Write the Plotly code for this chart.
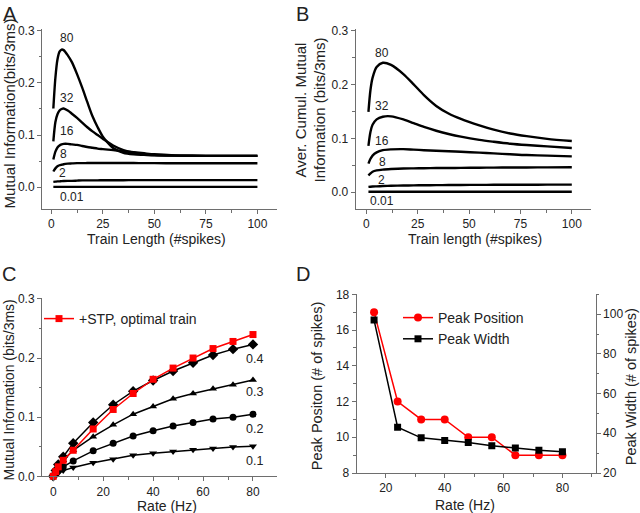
import plotly.graph_objects as go

# ---------------- Panel A data ----------------
a_x = [1, 2, 3, 4, 5, 6, 8, 10, 12.5, 15, 17.5, 20, 22.5, 25, 27.5, 30, 35, 40, 45, 50, 60, 75, 100]
a_80 = [0.151, 0.210, 0.245, 0.260, 0.264, 0.263, 0.253, 0.240, 0.217, 0.191, 0.163, 0.136, 0.115, 0.097,
        0.085, 0.075, 0.066, 0.063, 0.062, 0.061, 0.0605, 0.060, 0.060]
a_32 = [0.088, 0.125, 0.140, 0.147, 0.150, 0.151, 0.147, 0.141, 0.133, 0.124, 0.115, 0.107, 0.100, 0.093,
        0.086, 0.080, 0.071, 0.066, 0.063, 0.0615, 0.0605, 0.060, 0.060]
a_16 = [0.053, 0.068, 0.076, 0.080, 0.082, 0.083, 0.083, 0.082, 0.081, 0.079, 0.077, 0.0755, 0.074, 0.073,
        0.072, 0.071, 0.069, 0.067, 0.065, 0.063, 0.061, 0.060, 0.060]
a_8 = [0.030, 0.036, 0.040, 0.042, 0.043, 0.044, 0.045, 0.0455, 0.046, 0.046, 0.0462, 0.0463, 0.0463, 0.0463,
       0.0463, 0.0463, 0.0462, 0.0462, 0.0461, 0.0460, 0.0459, 0.0458, 0.0458]
a_2 = [0.010, 0.0105, 0.011, 0.011, 0.0115, 0.0118, 0.012, 0.012, 0.0125, 0.013, 0.013, 0.013, 0.013, 0.0132,
       0.0132, 0.0133, 0.0133, 0.0134, 0.0134, 0.0134, 0.0135, 0.0135, 0.0135]
a_001 = [0.0005] * len(a_x)

# ---------------- Panel B data ----------------
b_x = [1, 2, 3, 5, 8, 12, 18, 23, 28, 34, 40, 46, 55, 62, 70, 78, 88, 100]
b_80 = [0.149, 0.190, 0.212, 0.232, 0.240, 0.236, 0.219, 0.200, 0.180, 0.160, 0.146, 0.136, 0.124, 0.116,
        0.109, 0.104, 0.099, 0.095]
b_32 = [0.086, 0.112, 0.125, 0.135, 0.140, 0.1407, 0.135, 0.128, 0.121, 0.114, 0.108, 0.103, 0.097, 0.0935,
        0.090, 0.0875, 0.085, 0.082]
b_16 = [0.053, 0.062, 0.068, 0.074, 0.078, 0.0795, 0.080, 0.079, 0.078, 0.077, 0.076, 0.075, 0.0735, 0.072,
        0.0705, 0.069, 0.068, 0.0666]
b_8 = [0.031, 0.035, 0.038, 0.0405, 0.042, 0.043, 0.044, 0.0443, 0.0446, 0.0449, 0.045, 0.0452, 0.0455,
       0.0457, 0.0459, 0.046, 0.0462, 0.0463]
b_2 = [0.0099, 0.0103, 0.0106, 0.011, 0.0115, 0.012, 0.0125, 0.0128, 0.013, 0.0132, 0.0134, 0.0136, 0.0137,
       0.0138, 0.0139, 0.014, 0.0141, 0.0141]
b_001 = [0.001] * len(b_x)

# ---------------- Panel C data ----------------
c_rate = [0, 1, 2, 4, 8, 16, 24, 32, 40, 48, 56, 64, 72, 80]
c_stp = [0.0, 0.008, 0.016, 0.027, 0.044, 0.080, 0.113, 0.140, 0.164, 0.183, 0.200, 0.216, 0.228, 0.2397]
c_04 = [0.0, 0.010, 0.020, 0.033, 0.056, 0.091, 0.121, 0.144, 0.162, 0.178, 0.192, 0.205, 0.215, 0.223]
c_03 = [0.0, 0.008, 0.015, 0.027, 0.044, 0.067, 0.087, 0.105, 0.118, 0.131, 0.140, 0.148, 0.155, 0.163]
c_02 = [0.0, 0.005, 0.010, 0.016, 0.026, 0.043, 0.056, 0.068, 0.077, 0.085, 0.091, 0.097, 0.100, 0.105]
c_01 = [0.0, 0.003, 0.005, 0.0096, 0.015, 0.023, 0.029, 0.0355, 0.039, 0.042, 0.045, 0.047, 0.0496, 0.051]

# ---------------- Panel D data ----------------
d_rate = [16, 24, 32, 40, 48, 56, 64, 72, 80]
d_pos = [17, 12, 11, 11, 10, 10, 9, 9, 9]
d_width = [97, 43.1, 37.7, 36.4, 35.4, 33.7, 32.6, 31.4, 30.7]

FONT = "Liberation Sans, Arial, sans-serif"
AX = "#6e6e6e"
TXT = "#222222"

fig = go.Figure()

def curve(x, y, xa, ya):
    fig.add_trace(go.Scatter(x=x, y=y, mode="lines", line=dict(color="black", width=2.4, shape="spline", smoothing=0.8),
                             xaxis=xa, yaxis=ya, showlegend=False, hoverinfo="skip"))

for ys in [a_001, a_2, a_8, a_16, a_32, a_80]:
    curve(a_x, ys, "x", "y")
for ys in [b_001, b_2, b_8, b_16, b_32, b_80]:
    curve(b_x, ys, "x2", "y2")

for ys, sym in [(c_01, "triangle-down"), (c_02, "circle"), (c_03, "triangle-up"), (c_04, "diamond")]:
    fig.add_trace(go.Scatter(x=c_rate, y=ys, mode="lines+markers", xaxis="x3", yaxis="y3",
                             line=dict(color="black", width=1.5),
                             marker=dict(symbol=sym, size=7 if sym != "diamond" else 8, color="black"),
                             showlegend=False, cliponaxis=False))
fig.add_trace(go.Scatter(x=c_rate, y=c_stp, mode="lines+markers", xaxis="x3", yaxis="y3",
                         line=dict(color="#ff0000", width=1.5),
                         marker=dict(symbol="square", size=7, color="#ff0000"),
                         name="+STP, optimal train", legend="legend", cliponaxis=False))

fig.add_trace(go.Scatter(x=d_rate, y=d_width, mode="lines+markers", xaxis="x4", yaxis="y5",
                         line=dict(color="black", width=1.5),
                         marker=dict(symbol="square", size=7, color="black"),
                         name="Peak Width", legend="legend2", legendrank=2))
fig.add_trace(go.Scatter(x=d_rate, y=d_pos, mode="lines+markers", xaxis="x4", yaxis="y4",
                         line=dict(color="#ff0000", width=1.5),
                         marker=dict(symbol="circle", size=8, color="#ff0000"),
                         name="Peak Position", legend="legend2", legendrank=1))

def axis(**kw):
    d = dict(showline=True, linecolor=AX, linewidth=1, ticks="outside", ticklen=4, tickcolor=AX,
             showgrid=False, zeroline=False, automargin=False,
             tickfont=dict(family=FONT, size=12, color=TXT))
    d.update(kw)
    return d

def minor(dt):
    return dict(ticks="outside", ticklen=2.5, tickcolor=AX, dtick=dt, showgrid=False)

def py(p):
    return 1 - p / 513.0

def px(p):
    return p / 640.0

fig.update_layout(
    template="none",
    width=640, height=513, margin=dict(l=0, r=0, t=0, b=0, autoexpand=False),
    paper_bgcolor="white", plot_bgcolor="white",
    font=dict(family=FONT, color=TXT),
    xaxis=axis(domain=[px(42), px(277)], anchor="y", range=[-4.5, 109.5], tick0=0, dtick=25, minor=minor(12.5)),
    yaxis=axis(domain=[py(209), py(29.3)], anchor="x", range=[-0.042, 0.303], tick0=0, dtick=0.1,
               tickformat=".1f", minor=minor(0.05)),
    xaxis2=axis(domain=[px(355.7), px(590.7)], anchor="y2", range=[-5.2, 109.2], tick0=0, dtick=25, minor=minor(12.5)),
    yaxis2=axis(domain=[py(209), py(29.3)], anchor="x2", range=[-0.031, 0.302], tick0=0, dtick=0.1,
                tickformat=".1f", minor=minor(0.05)),
    xaxis3=axis(domain=[px(42), px(276.7)], anchor="y3", range=[-4.5, 89.5], tick0=0, dtick=20, minor=minor(10)),
    yaxis3=axis(domain=[py(476.3), py(297.7)], anchor="x3", range=[0, 0.302], tick0=0, dtick=0.1,
                tickformat=".1f", minor=minor(0.05)),
    xaxis4=axis(domain=[px(356.7), px(595.7)], anchor="y4", range=[10.1, 91.3], tick0=0, dtick=20, minor=minor(10)),
    yaxis4=axis(domain=[py(473), py(294.3)], anchor="x4", range=[8, 18], tick0=8, dtick=2, minor=minor(1)),
    yaxis5=axis(overlaying="y4", side="right", anchor="x4", range=[20, 110], tick0=20, dtick=20, minor=minor(10)),
    legend=dict(x=px(39), y=py(319), xanchor="left", yanchor="middle", bgcolor="rgba(0,0,0,0)",
                font=dict(family=FONT, size=14, color=TXT), itemwidth=30),
    legend2=dict(x=px(398), y=py(328.5), xanchor="left", yanchor="middle", bgcolor="rgba(0,0,0,0)",
                 font=dict(family=FONT, size=14, color=TXT), itemwidth=30, tracegroupgap=0),
)

ann = []
def text(x, y, s, size, xref="paper", yref="paper", angle=0, xanchor="center", yanchor="middle"):
    ann.append(dict(x=x, y=y, text=s, xref=xref, yref=yref, showarrow=False, textangle=angle,
                    xanchor=xanchor, yanchor=yanchor, font=dict(family=FONT, size=size, color=TXT)))

# panel letters
text(px(1), py(1), "A", 20, xanchor="left", yanchor="top")
text(px(294), py(1), "B", 20, xanchor="left", yanchor="top")
text(px(0), py(261), "C", 20, xanchor="left", yanchor="top")
text(px(294), py(261), "D", 20, xanchor="left", yanchor="top")

# axis titles
text(px(8.5), py(114), "Mutual Information(bits/3ms)", 15, angle=-90)
text(px(156), py(238.5), "Train Length (#spikes)", 14)
text(px(309.5), py(110), "Aver. Cumul. Mutual<br>Information (bits/3ms)", 15, angle=-90)
text(px(475), py(238.5), "Train length (#spikes)", 14)
text(px(8.5), py(390), "Mutual Information (bits/3ms)", 14, angle=-90)
text(px(166.7), py(505.5), "Rate (Hz)", 14)
text(px(316.5), py(386.7), "Peak Positon (# of spikes)", 14.5, angle=-90)
text(px(630.5), py(386.7), "Peak Width (# of spikes)", 14.5, angle=-90)
text(px(465), py(505), "Rate (Hz)", 14)

# curve labels
a_labels = [("80", 7.4, 0.2854), ("32", 7.4, 0.172), ("16", 7.4, 0.1075), ("8", 6.0, 0.0633),
            ("2", 5.5, 0.0275), ("0.01", 10.0, -0.0186)]
for s, x, y in a_labels:
    text(x, y, s, 12, xref="x", yref="y")
b_labels = [("80", 7.5, 0.2585), ("32", 7.5, 0.160), ("16", 7.5, 0.095), ("8", 7.8, 0.0556),
            ("2", 7.6, 0.0228), ("0.01", 7.7, -0.0155)]
for s, x, y in b_labels:
    text(x, y, s, 12, xref="x2", yref="y2")
c_labels = [("0.4", 80.6, 0.1985), ("0.3", 80.6, 0.1426), ("0.2", 80.6, 0.080), ("0.1", 80.6, 0.0259)]
for s, x, y in c_labels:
    text(x, y, s, 12.5, xref="x3", yref="y3")

fig.update_layout(annotations=ann)
fig.write_html("out.html", config={"displayModeBar": False},
               post_script="document.body.style.margin='0';document.body.style.overflow='hidden';")
